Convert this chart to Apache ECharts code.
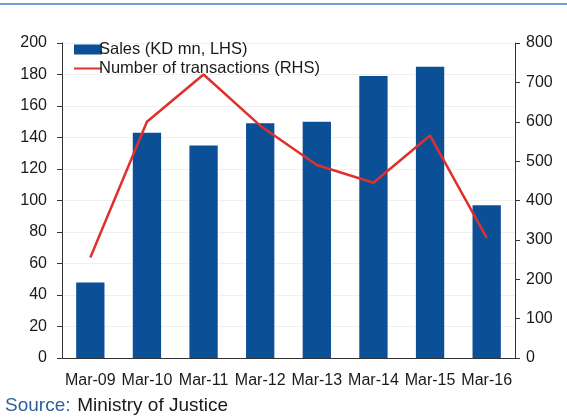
<!DOCTYPE html>
<html>
<head>
<meta charset="utf-8">
<script src="https://cdn.jsdelivr.net/npm/echarts@6/dist/echarts.min.js"></script>
<style>
	html, body { margin: 0; padding: 0; background: #fff; }
	#chart { width: 567px; height: 417px; }
</style>
</head>
<body>
<div id="chart"></div>
<script>
// data
var months = ['Mar-09', 'Mar-10', 'Mar-11', 'Mar-12', 'Mar-13', 'Mar-14', 'Mar-15', 'Mar-16'];
var sales = [48, 143, 135, 149, 150, 179, 185, 97];
var transactions = [255, 600, 720, 590, 490, 445, 565, 305];
var leftTicks = [0, 200, 20];
var rightTicks = [0, 800, 100];

var myChart = echarts.init(document.getElementById('chart'));
var font = 'Liberation Sans, Arial, sans-serif';

var option = {
	animation: false,
	textStyle: { fontFamily: font },
	legend: {
		left: 68,
		top: 36,
		orient: 'vertical',
		itemGap: 2,
		itemWidth: 28,
		itemHeight: 10,
		textStyle: { fontSize: 16.5, color: '#1a1a1a', padding: [0, 0, 0, -8] },
		data: [
			{ name: 'Sales (KD mn, LHS)', icon: 'rect' },
			{ name: 'Number of transactions (RHS)', itemStyle: { opacity: 0 } }
		]
	},
	grid: { left: 62, right: 52, top: 43, bottom: 59 },
	xAxis: [
		{
			type: 'category',
			data: months,
			axisLine: { lineStyle: { color: '#333' } },
			axisTick: { length: 5, lineStyle: { color: '#333' } },
			axisLabel: { fontSize: 16, color: '#1a1a1a', margin: 15, interval: 0 }
		},
		{
			type: 'category',
			data: months,
			position: 'bottom',
			axisLine: { show: false },
			axisTick: { alignWithLabel: true, length: 5, lineStyle: { color: '#333' } },
			axisLabel: { show: false }
		}
	],
	yAxis: [
		{
			type: 'value',
			min: leftTicks[0],
			max: leftTicks[1],
			interval: leftTicks[2],
			axisLine: { show: true, lineStyle: { color: '#333' } },
			axisTick: { show: true, length: 5, lineStyle: { color: '#333' } },
			axisLabel: { fontSize: 16, color: '#1a1a1a', margin: 15 },
			splitLine: { lineStyle: { color: '#f0f0f0' } }
		},
		{
			type: 'value',
			position: 'right',
			min: rightTicks[0],
			max: rightTicks[1],
			interval: rightTicks[2],
			axisLine: { show: true, lineStyle: { color: '#333' } },
			axisTick: { show: true, length: 5, lineStyle: { color: '#333' } },
			axisLabel: { fontSize: 16, color: '#1a1a1a', margin: 11 },
			splitLine: { show: false }
		}
	],
	series: [
		{
			name: 'Sales (KD mn, LHS)',
			type: 'bar',
			barWidth: '50%',
			itemStyle: { color: '#0b4f96' },
			data: sales
		},
		{
			name: 'Number of transactions (RHS)',
			type: 'line',
			yAxisIndex: 1,
			symbol: 'none',
			lineStyle: { color: '#e0302c', width: 2.5 },
			itemStyle: { color: '#e0302c' },
			data: transactions
		}
	],
	graphic: [
		{
			type: 'rect',
			left: 0,
			top: 3,
			shape: { width: 567, height: 2 },
			style: { fill: '#6fa3d8' }
		},
		{
			type: 'text',
			left: 5,
			top: 396,
			style: {
				text: '{a|Source:}  {b|Ministry of Justice}',
				rich: {
					a: { fontSize: 19, fill: '#2f5f9e', fontFamily: font },
					b: { fontSize: 19, fill: '#1a1a1a', fontFamily: font }
				}
			}
		}
	]
};
myChart.setOption(option);
window.addEventListener('resize', () => myChart.resize(), false);
</script>
</body>
</html>
